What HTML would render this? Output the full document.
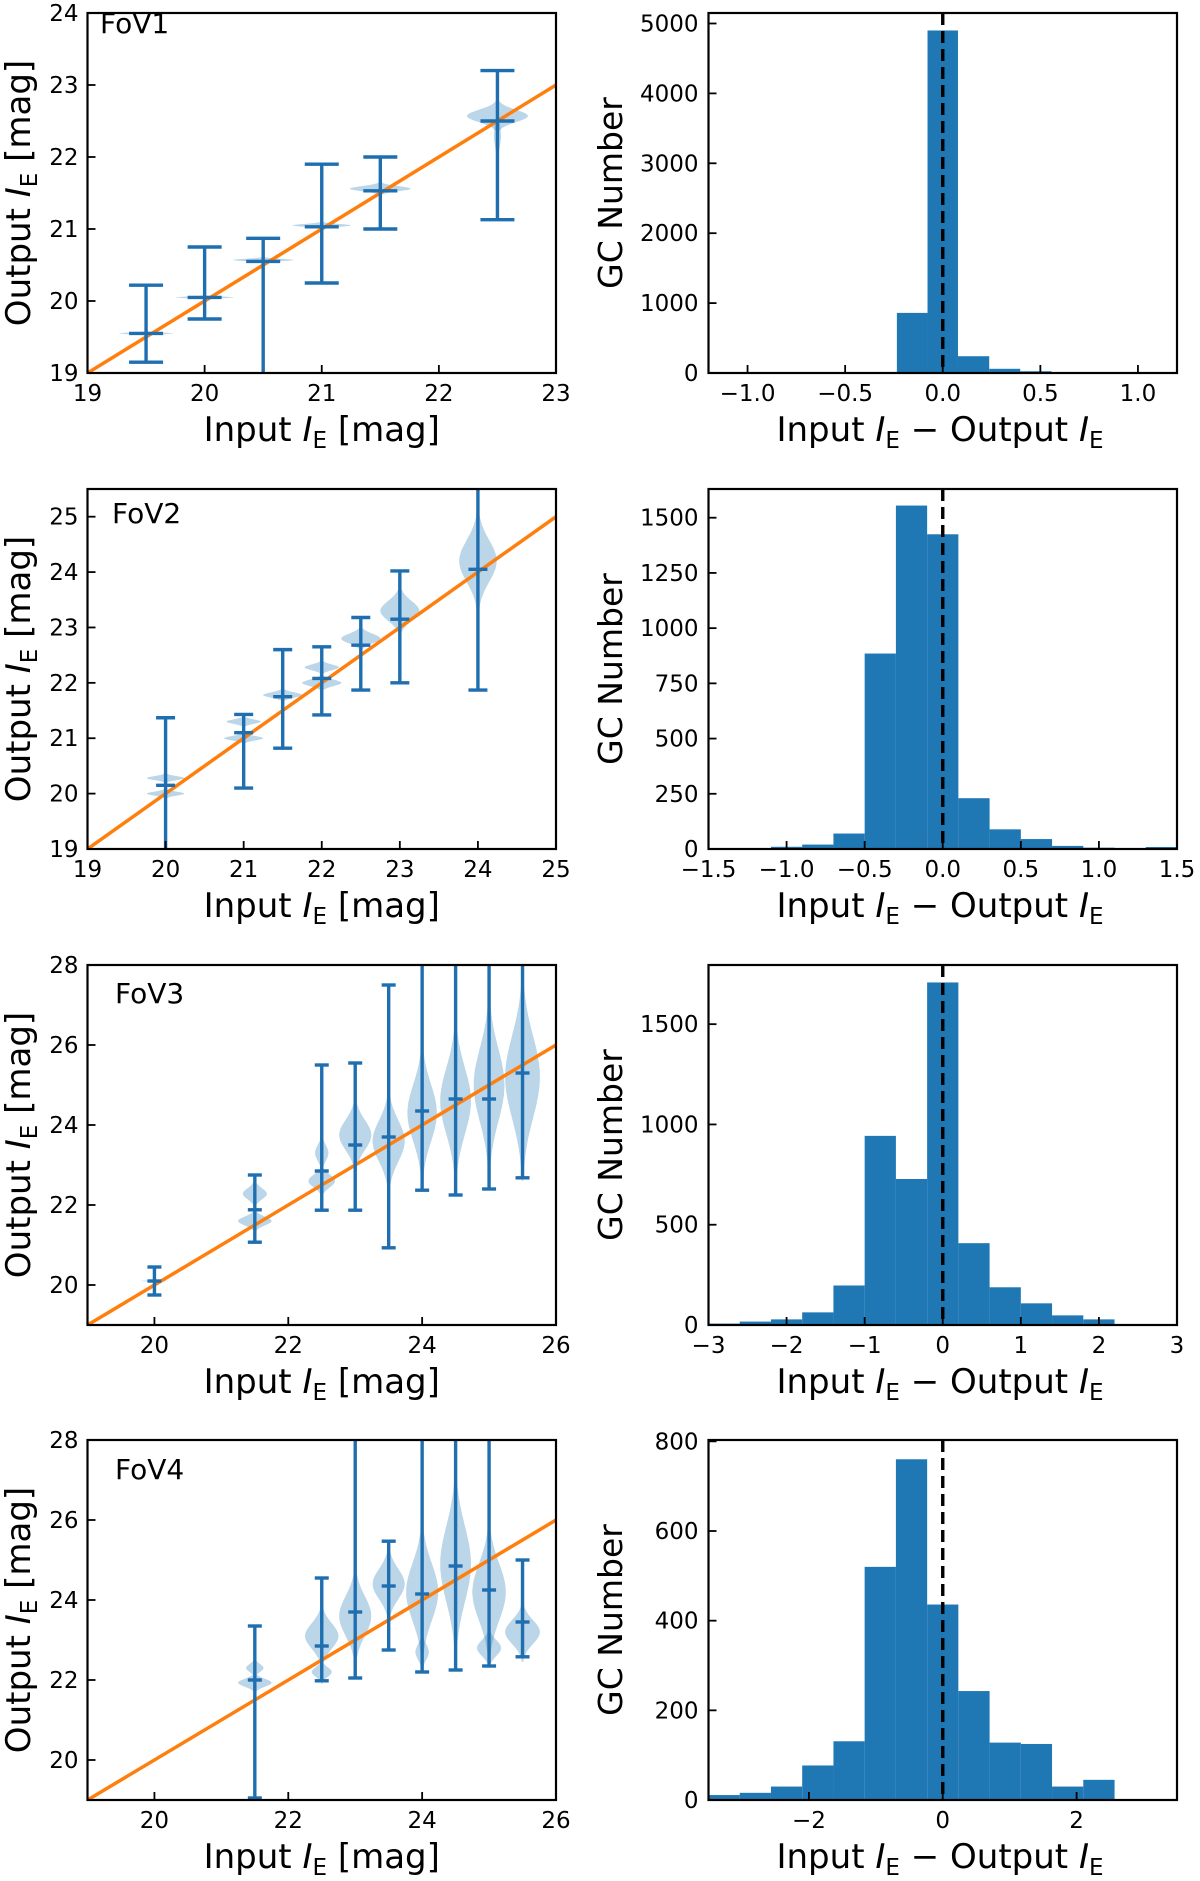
<!DOCTYPE html>
<html><head><meta charset="utf-8"><style>
html,body{margin:0;padding:0;background:#fff;}
svg{display:block;font-family:"DejaVu Sans","Liberation Sans",sans-serif;}
</style></head><body>
<svg id="fig" width="1200" height="1881" viewBox="0 0 1200 1881" xmlns="http://www.w3.org/2000/svg"></svg>
<script>
// ---------- data ----------
const fov1X   = [19.5, 20, 20.5, 21, 21.5, 22.5];
const fov1Med = [19.55, 20.05, 20.55, 21.03, 21.53, 22.5];
const fov1Lo  = [19.15, 19.75, 18.5, 20.25, 21.0, 21.13];
const fov1Hi  = [20.22, 20.75, 20.87, 21.9, 22.0, 23.2];
const fov1Vio = [[[19.55,0.03,0.23]],[[20.05,0.03,0.25]],[[20.57,0.04,0.26]],[[21.05,0.05,0.25]],[[21.56,0.09,0.26]],[[22.57,0.22,0.26],[22.3,0.45,0.03]]];

const fov2X   = [20, 21, 21.5, 22, 22.5, 23, 24];
const fov2Med = [20.15, 21.1, 21.75, 22.08, 22.68, 23.15, 24.05];
const fov2Lo  = [18.5, 20.1, 20.82, 21.42, 21.87, 22.0, 21.87];
const fov2Hi  = [21.37, 21.43, 22.6, 22.65, 23.18, 24.02, 26.5];
const fov2Vio = [[[20.0,0.09,0.24],[20.28,0.09,0.24]],[[21.0,0.1,0.25],[21.3,0.1,0.22]],[[21.78,0.12,0.25]],[[22.0,0.15,0.25],[22.28,0.13,0.22]],[[22.8,0.22,0.25]],[[23.3,0.45,0.25]],[[24.2,0.95,0.24]]];

const fov3X   = [20, 21.5, 22.5, 23, 23.5, 24, 24.5, 25, 25.5];
const fov3Med = [20.1, 21.88, 22.85, 23.5, 23.7, 24.35, 24.65, 24.65, 25.3];
const fov3Lo  = [19.75, 21.07, 21.87, 21.87, 20.93, 22.37, 22.25, 22.4, 22.68];
const fov3Hi  = [20.45, 22.75, 25.5, 25.55, 27.5, 29, 29, 29, 29];
const fov3Vio = [[[20.1,0.03,0.2]],[[22.28,0.35,0.18],[21.6,0.28,0.25]],[[22.6,0.4,0.2],[23.3,0.5,0.1]],[[23.75,0.95,0.24]],[[23.6,1.3,0.24]],[[24.3,1.8,0.22]],[[24.6,2.1,0.23]],[[25.0,2.3,0.23]],[[25.2,2.6,0.26]]];

const fov4X   = [21.5, 22.5, 23, 23.5, 24, 24.5, 25, 25.5];
const fov4Med = [22.0, 22.85, 23.7, 24.35, 24.15, 24.85, 24.25, 23.45];
const fov4Lo  = [19.05, 21.98, 22.05, 22.75, 22.2, 22.25, 22.35, 22.58];
const fov4Hi  = [23.35, 24.55, 29, 25.47, 29, 29, 29, 25.0];
const fov4Vio = [[[22.3,0.25,0.13],[21.93,0.25,0.25]],[[23.1,0.8,0.25],[22.2,0.3,0.15]],[[23.6,1.25,0.24]],[[24.4,0.95,0.24]],[[24.2,1.8,0.24],[22.7,0.5,0.1]],[[24.9,2.4,0.23]],[[24.2,1.8,0.25],[22.8,0.5,0.18]],[[23.2,0.75,0.26]]];

const hist1Edges  = [-0.235,-0.078,0.078,0.238,0.397,0.557];
const hist1Counts = [860, 4900, 240, 60, 25];
const hist2Edges  = [-1.1,-0.9,-0.7,-0.5,-0.3,-0.1,0.1,0.3,0.5,0.7,0.9,1.1,1.3,1.5];
const hist2Counts = [10, 20, 70, 885, 1555, 1425, 230, 89, 45, 14, 6, 4, 9];
const hist3Edges  = [-3,-2.6,-2.2,-1.8,-1.4,-1.0,-0.6,-0.2,0.2,0.6,1.0,1.4,1.8,2.2,2.6];
const hist3Counts = [7, 17, 28, 63, 197, 943, 728, 1708, 408, 188, 108, 48, 28, 5];
const hist4Edges  = [-3.5,-3.033,-2.567,-2.1,-1.633,-1.167,-0.7,-0.233,0.233,0.7,1.167,1.633,2.1,2.567,3.033];
const hist4Counts = [11, 16, 30, 77, 131, 520, 760, 436, 243, 128, 125, 30, 45, 1];

const scatTicksX = [["19","20","21","22","23"],["19","20","21","22","23","24","25"],["20","22","24","26"],["20","22","24","26"]];
const scatTicksY = [["19","20","21","22","23","24"],["19","20","21","22","23","24","25"],["20","22","24","26","28"],["20","22","24","26","28"]];
const histTicksX = [["-1.0","-0.5","0.0","0.5","1.0"],["-1.5","-1.0","-0.5","0.0","0.5","1.0","1.5"],["-3","-2","-1","0","1","2","3"],["-2","0","2"]];
const histTicksY = [["0","1000","2000","3000","4000","5000"],["0","250","500","750","1000","1250","1500"],["0","500","1000","1500"],["0","200","400","600","800"]];
const fovLabels = ["FoV1","FoV2","FoV3","FoV4"];

// ---------- layout ----------
const NS = "http://www.w3.org/2000/svg";
const svg = document.getElementById('fig');
const ROWS = [13, 489, 965, 1440], H = 360, LX = 87.5, RX = 708.5, W = 468.5;
const BLUE = "#1f77b4", DARK = "#1f6eb0";
function mk(tag, attrs, parent){ const e=document.createElementNS(NS,tag); for(const k in attrs) e.setAttribute(k,attrs[k]); (parent||svg).appendChild(e); return e; }

const scatCfg = [
  {xmin:19,xmax:23,ymin:19,ymax:24,cap:17,fx:100,fy:33},
  {xmin:19,xmax:25,ymin:19,ymax:25.5,cap:9.5,fx:112,fy:523},
  {xmin:19,xmax:26,ymin:19,ymax:28,cap:7,fx:115,fy:1003},
  {xmin:19,xmax:26,ymin:19,ymax:28,cap:7,fx:115,fy:1479}];
const scatData = [[fov1X,fov1Med,fov1Lo,fov1Hi,fov1Vio],[fov2X,fov2Med,fov2Lo,fov2Hi,fov2Vio],[fov3X,fov3Med,fov3Lo,fov3Hi,fov3Vio],[fov4X,fov4Med,fov4Lo,fov4Hi,fov4Vio]];
const histCfg = [{xmin:-1.2,xmax:1.2,ymax:5150},{xmin:-1.5,xmax:1.5,ymax:1630},{xmin:-3,xmax:3,ymax:1795},{xmin:-3.5,xmax:3.5,ymax:803}];
const histData = [[hist1Edges,hist1Counts],[hist2Edges,hist2Counts],[hist3Edges,hist3Counts],[hist4Edges,hist4Counts]];

function fmt(s){ return s.replace('-', '\u2212'); }
function ieLabel(parent, x, y, parts, anchor, rot){
  const t = mk('text',{x:x,y:y,'font-size':34,'text-anchor':anchor||'middle',fill:'#000'},parent);
  if(rot) t.setAttribute('transform',rot);
  parts.forEach(p=>{
    const s = mk('tspan',{},t);
    if(p.i){ s.setAttribute('font-style','italic'); }
    if(p.sub){ s.setAttribute('font-size','23'); s.setAttribute('dy','7'); }
    if(p.up){ s.setAttribute('dy','-7'); }
    s.textContent = p.t;
  });
  return t;
}

function axesFrame(g, x0, y0, name){
  const r = mk('rect',{x:x0,y:y0,width:W,height:H,fill:'none',stroke:'#000','stroke-width':2.2},g);
  
  
}

for(let i=0;i<4;i++){
  const c = scatCfg[i], y0 = ROWS[i];
  const sx = v => LX + (v-c.xmin)/(c.xmax-c.xmin)*W;
  const sy = v => y0 + H - (v-c.ymin)/(c.ymax-c.ymin)*H;
  const g = mk('g',{});
  
  
  const clip = mk('clipPath',{id:'cs'+i},g);
  mk('rect',{x:LX,y:y0,width:W,height:H},clip);
  const plot = mk('g',{'clip-path':'url(#cs'+i+')'},g);
  const [xs,med,lo,hi,vio] = scatData[i];
  xs.forEach((x,j)=>{
    vio[j].forEach(l=>{
      const [cc,hh,hw] = l; let pts=[];
      for(let k=0;k<=40;k++){ const t=-1+k/20; pts.push([x+hw*Math.exp(-3.2*t*t), cc+t*hh]); }
      for(let k=40;k>=0;k--){ const t=-1+k/20; pts.push([x-hw*Math.exp(-3.2*t*t), cc+t*hh]); }
      const p = mk('polygon',{points:pts.map(q=>sx(q[0]).toFixed(1)+','+sy(q[1]).toFixed(1)).join(' '),fill:BLUE,'fill-opacity':0.3,stroke:'none'},plot);
      
      
    });
  });
  const line = mk('line',{x1:sx(c.xmin),y1:sy(c.xmin),x2:sx(c.xmax),y2:sy(c.xmax),stroke:'#ff7f0e','stroke-width':3.5},plot);
  
  
  xs.forEach((x,j)=>{
    const eg = mk('g',{stroke:DARK,'stroke-width':3.4},plot);
    
    
    mk('line',{x1:sx(x),x2:sx(x),y1:sy(lo[j]),y2:sy(hi[j])},eg);
    [lo[j],hi[j],med[j]].forEach(v=>mk('line',{x1:sx(x)-c.cap,x2:sx(x)+c.cap,y1:sy(v),y2:sy(v)},eg));
  });
  axesFrame(g, LX, y0, 'fov'+(i+1)+'-scatter');
  scatTicksX[i].forEach(t=>{ const v=parseFloat(t), X=sx(v);
    mk('line',{x1:X,x2:X,y1:y0+H,y2:y0+H-8,stroke:'#000','stroke-width':1.8},g);
    const tx=mk('text',{x:X,y:y0+H+28,'font-size':23,'text-anchor':'middle'},g); tx.textContent=t;
      });
  scatTicksY[i].forEach(t=>{ const v=parseFloat(t), Y=sy(v);
    mk('line',{x1:LX,x2:LX+8,y1:Y,y2:Y,stroke:'#000','stroke-width':1.8},g);
    const tx=mk('text',{x:LX-9,y:Y+8,'font-size':23,'text-anchor':'end'},g); tx.textContent=t;
      });
  const fl = mk('text',{x:c.fx,y:c.fy,'font-size':28},g); fl.textContent = fovLabels[i];
   
  const xt = ieLabel(g, LX+W/2, y0+H+68, [{t:'Input '},{t:'I',i:1},{t:'E',sub:1},{t:' [mag]',up:1}]);
   
  const yt = ieLabel(g, 0, 0, [{t:'Output '},{t:'I',i:1},{t:'E',sub:1},{t:' [mag]',up:1}], 'middle', 'translate(30,'+(y0+H/2)+') rotate(-90)');
   

  const h = histCfg[i];
  const hx = v => RX + (v-h.xmin)/(h.xmax-h.xmin)*W;
  const hy = v => y0 + H - v/h.ymax*H;
  const hg = mk('g',{});
  
  
  const [edges,counts] = histData[i];
  counts.forEach((n,j)=>{
    const b = mk('rect',{x:hx(edges[j]),y:hy(n),width:hx(edges[j+1])-hx(edges[j]),height:hy(0)-hy(n),fill:BLUE},hg);
    
    
  });
  const dl = mk('line',{x1:hx(0),x2:hx(0),y1:y0,y2:y0+H,stroke:'#000','stroke-width':3.4,'stroke-dasharray':'12,6'},hg);
   
  axesFrame(hg, RX, y0, 'fov'+(i+1)+'-hist');
  histTicksX[i].forEach(t=>{ const v=parseFloat(t), X=hx(v);
    mk('line',{x1:X,x2:X,y1:y0+H,y2:y0+H-8,stroke:'#000','stroke-width':1.8},hg);
    const tx=mk('text',{x:X,y:y0+H+28,'font-size':23,'text-anchor':'middle'},hg); tx.textContent=fmt(t);
      });
  histTicksY[i].forEach(t=>{ const v=parseFloat(t), Y=hy(v);
    mk('line',{x1:RX,x2:RX+8,y1:Y,y2:Y,stroke:'#000','stroke-width':1.8},hg);
    const tx=mk('text',{x:RX-10,y:Y+8,'font-size':23,'text-anchor':'end'},hg); tx.textContent=t;
      });
  const hxt = ieLabel(hg, 940, y0+H+68, [{t:'Input '},{t:'I',i:1},{t:'E',sub:1},{t:'  \u2212 Output ',up:1},{t:'I',i:1},{t:'E',sub:1}]);
   
  const hyt = mk('text',{'font-size':33,'text-anchor':'middle',transform:'translate(622,'+(y0+H/2)+') rotate(-90)'},hg);
  hyt.textContent = 'GC Number';
   
}
</script>
</body></html>
